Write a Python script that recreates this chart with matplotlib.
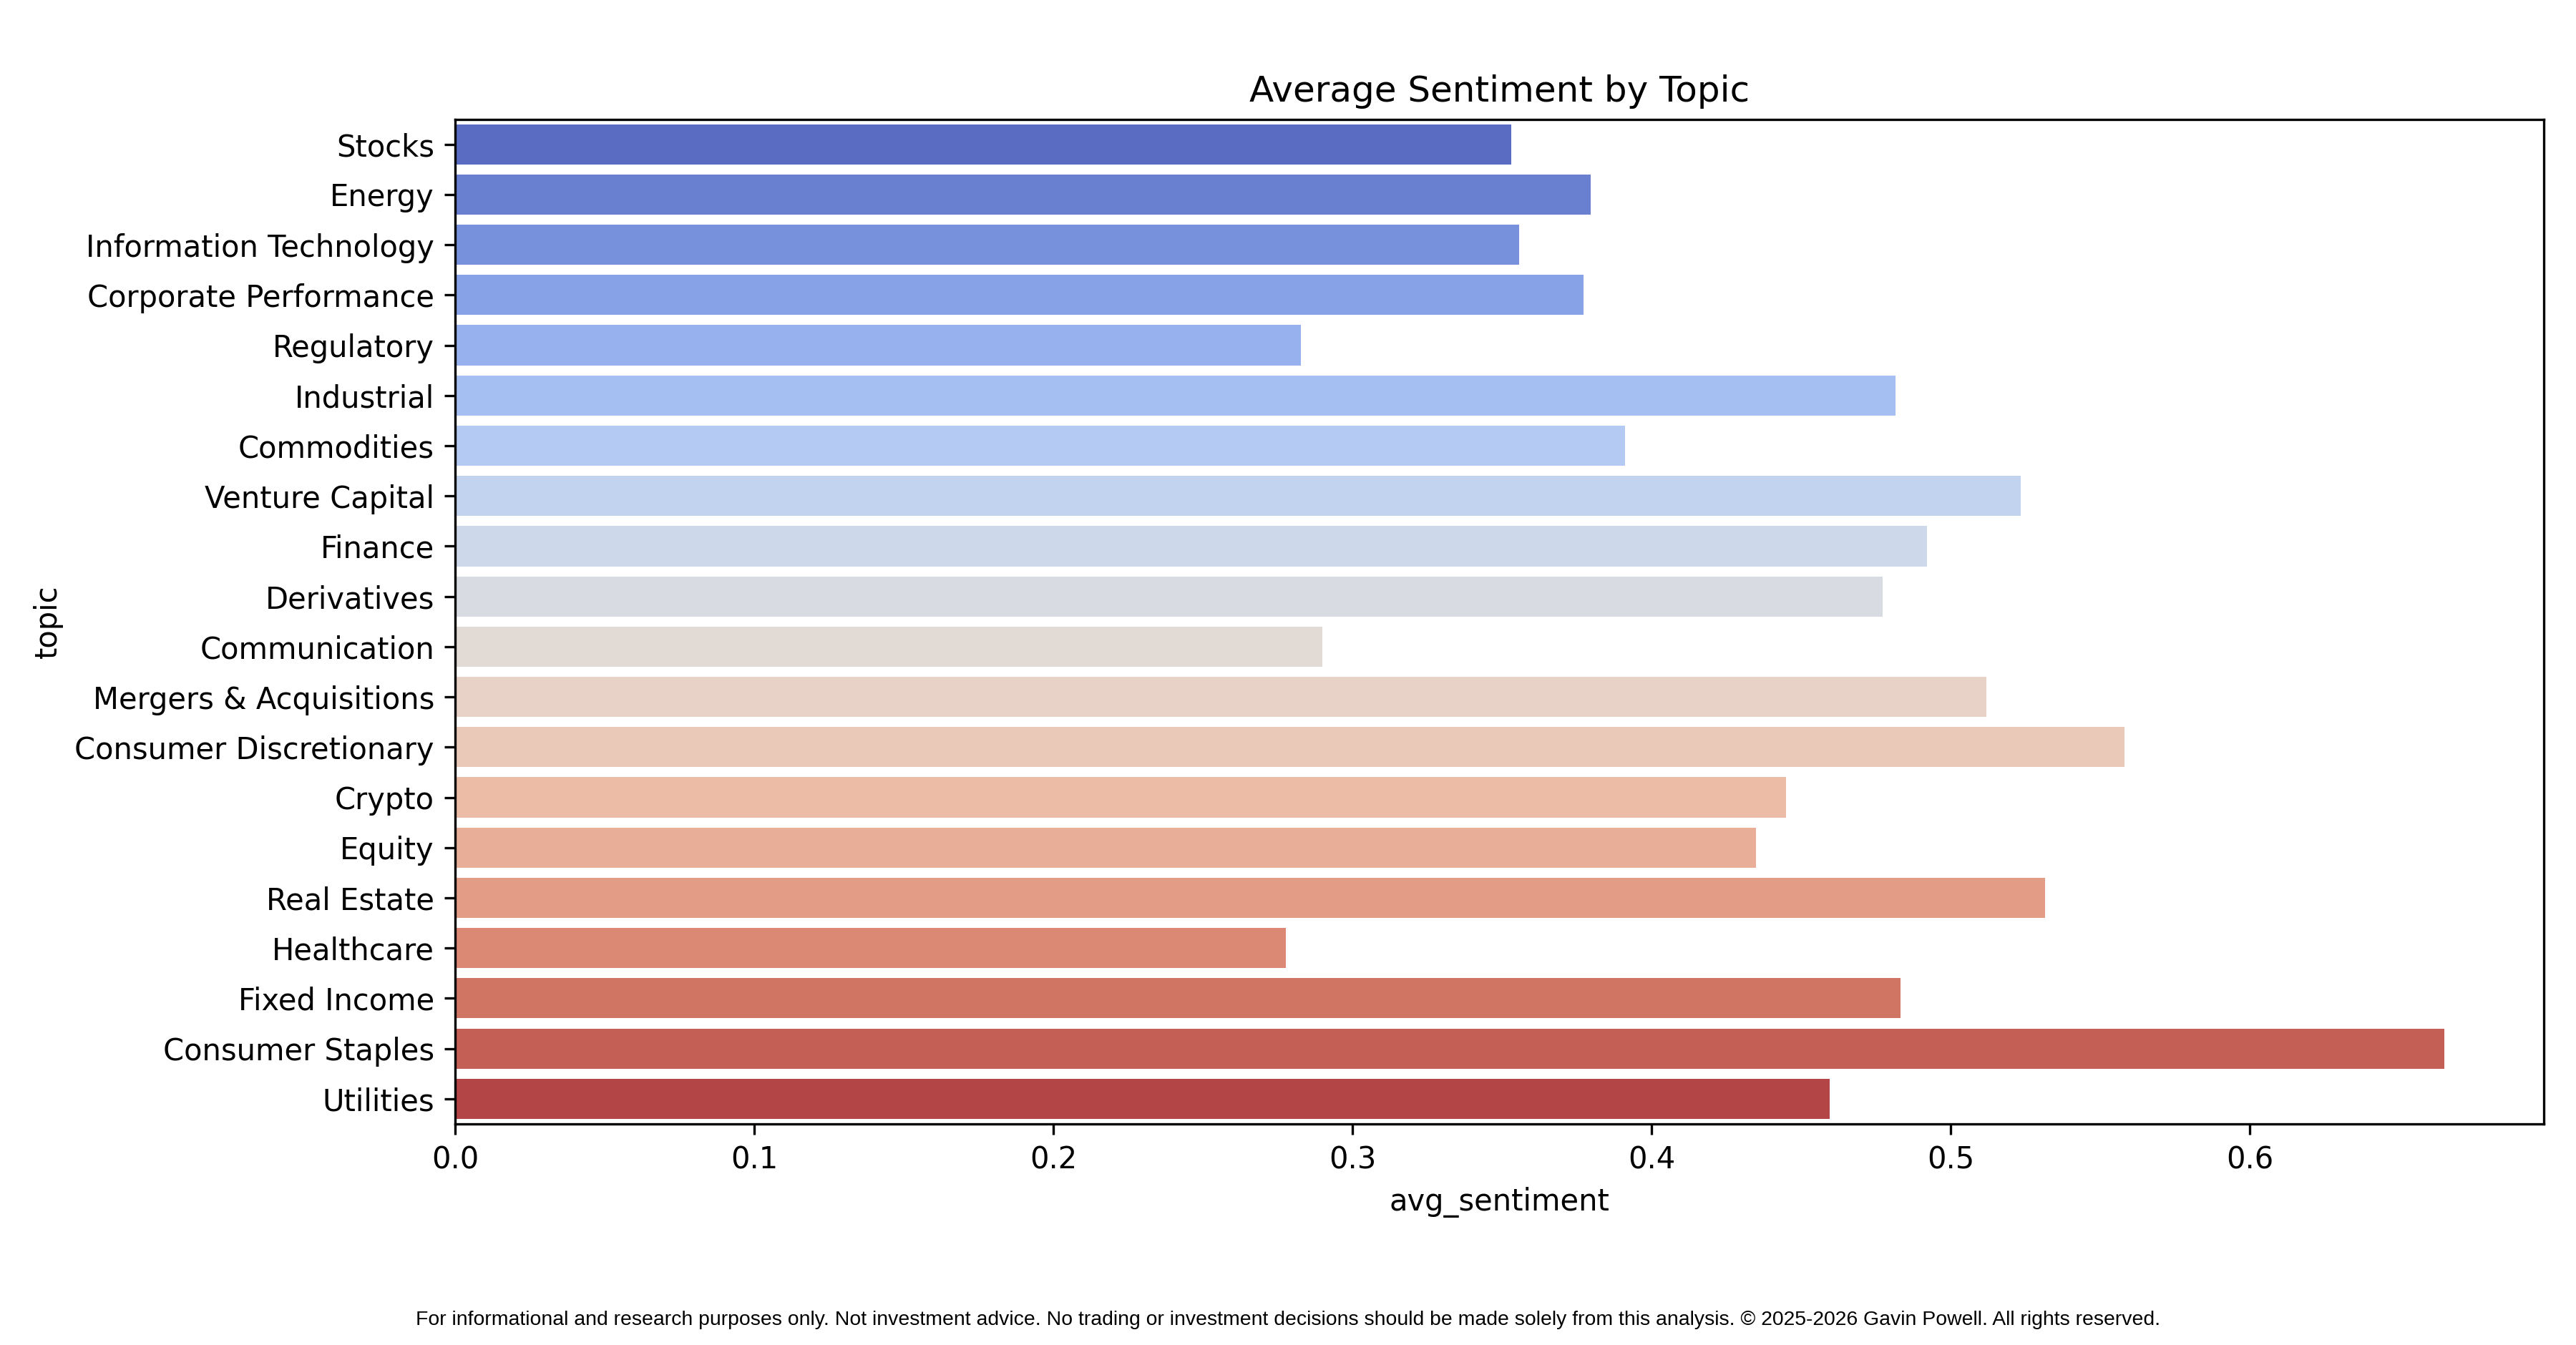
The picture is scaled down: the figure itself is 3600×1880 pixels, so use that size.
import matplotlib

matplotlib.use("Agg")
import matplotlib.pyplot as plt
import pandas as pd
import seaborn as sns

topics = [
    "Stocks", "Energy", "Information Technology", "Corporate Performance",
    "Regulatory", "Industrial", "Commodities", "Venture Capital", "Finance",
    "Derivatives", "Communication", "Mergers & Acquisitions",
    "Consumer Discretionary", "Crypto", "Equity", "Real Estate", "Healthcare",
    "Fixed Income", "Consumer Staples", "Utilities",
]
avg_sentiment = [
    0.3530, 0.3797, 0.3558, 0.3772, 0.2827, 0.4816, 0.3910, 0.5234, 0.4921,
    0.4772, 0.2899, 0.5118, 0.5580, 0.4448, 0.4349, 0.5316, 0.2778, 0.4833,
    0.6650, 0.4596,
]

df = pd.DataFrame({"topic": topics, "avg_sentiment": avg_sentiment})

fig = plt.figure(figsize=(12, 1880 / 300), dpi=300)
ax = fig.add_axes([0.1767, 0.1644, 0.8108, 0.747])
sns.barplot(data=df, x="avg_sentiment", y="topic", hue="topic",
            palette="coolwarm", legend=False, ax=ax)
ax.set_title("Average Sentiment by Topic", fontsize=12)

fig.text(0.5, 0.0150,
         "For informational and research purposes only. Not investment advice. "
         "No trading or investment decisions should be made solely from this analysis. "
         "\u00a9 2025-2026 Gavin Powell. All rights reserved.",
         ha="center", va="baseline", fontsize=6.8, family="Liberation Sans")

fig.savefig("out.png", dpi=300)
plt.close(fig)
